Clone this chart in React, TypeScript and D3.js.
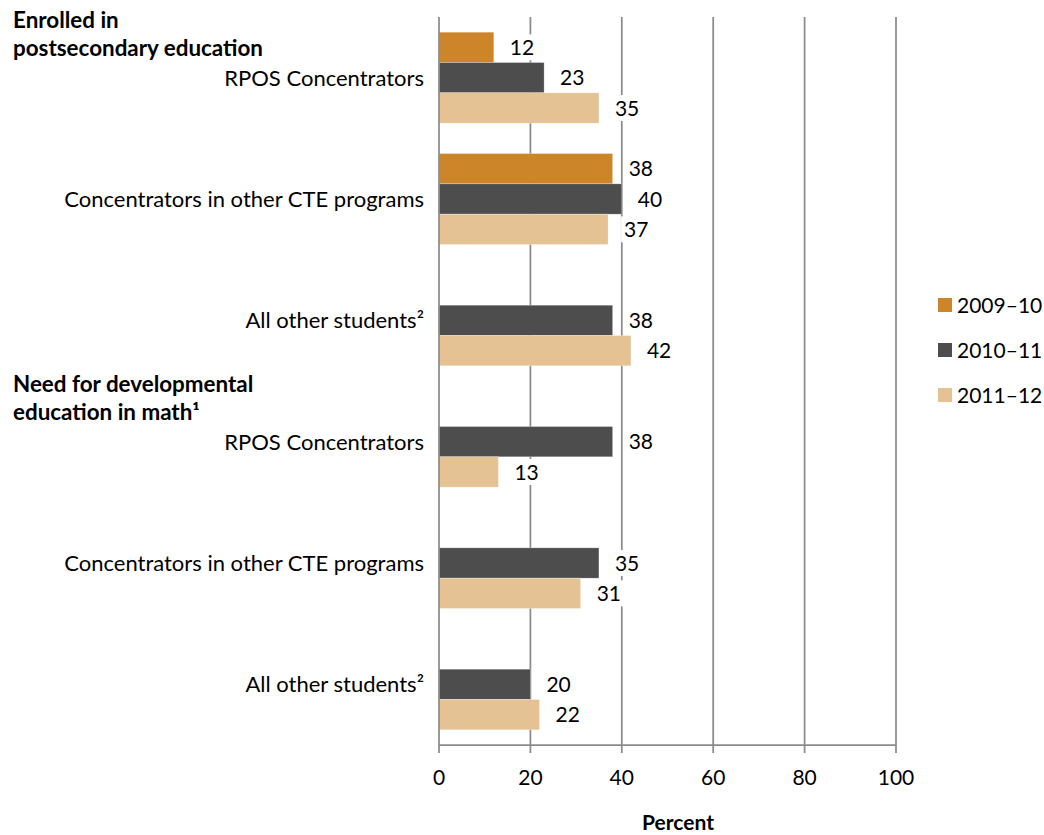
import React, { useEffect, useRef } from 'react';
import * as d3 from 'd3';

// rows of the chart, top to bottom
const groups = [
  'RPOS Concentrators',
  'Concentrators in other CTE programs',
  'All other students²',
  'RPOS Concentrators',
  'Concentrators in other CTE programs',
  'All other students²',
];
const sectionStarts = [0, 3];
const sectionTitles = [
  ['Enrolled in', 'postsecondary education'],
  ['Need for developmental', 'education in math¹'],
];

const years = ['2009–10', '2010–11', '2011–12'];
const vals0910: (number | null)[] = [12, 38, null, null, null, null];
const vals1011: (number | null)[] = [23, 40, 38, 38, 35, 20];
const vals1112: (number | null)[] = [35, 37, 42, 13, 31, 22];
const colors = ['#CD8529', '#4D4D4D', '#E4C294'];
const xTicks = [0, 20, 40, 60, 80, 100];

const FONT = "Lato, 'Open Sans', sans-serif";
const FS = 21;
const FS_CAT = 22;
const GRID = '#8c8c8c';

const App = () => {
  const ref = useRef<SVGSVGElement>(null);

  useEffect(() => {
    const svg = d3.select(ref.current);
    svg.selectAll('*').remove();

    const series = [vals0910, vals1011, vals1112];

    const x = d3.scaleLinear().domain([0, 100]).range([439, 896]);
    const y = d3.scaleBand<number>()
      .domain(d3.range(groups.length))
      .range([17, 745])
      .paddingInner(0.25)
      .paddingOuter(0.125);
    const sub = d3.scaleBand<number>().domain(d3.range(years.length)).range([0, y.bandwidth()]);

    const top = 17, bottom = 745;

    // vertical gridlines
    svg.append('g').selectAll('line')
      .data(xTicks.filter(d => d > 0))
      .enter().append('line')
      .attr('x1', d => x(d)).attr('x2', d => x(d))
      .attr('y1', top).attr('y2', bottom)
      .attr('stroke', GRID).attr('stroke-width', 1.75);

    // bars
    const bars: { g: number; s: number; v: number }[] = [];
    series.forEach((arr, s) => arr.forEach((v, g) => { if (v != null) bars.push({ g, s, v }); }));
    const rowMid = (d: { g: number; s: number }) =>
      (y(d.g) as number) + (sub(d.s) as number) + sub.bandwidth() / 2;

    svg.append('g').selectAll('rect')
      .data(bars)
      .enter().append('rect')
      .attr('x', x(0))
      .attr('y', d => (y(d.g) as number) + (sub(d.s) as number))
      .attr('width', d => x(d.v) - x(0))
      .attr('height', sub.bandwidth())
      .attr('fill', d => colors[d.s])
      .attr('stroke', '#ffffff').attr('stroke-opacity', 0.5).attr('stroke-width', 0.6);

    // left axis line
    svg.append('line')
      .attr('x1', x(0)).attr('x2', x(0)).attr('y1', top).attr('y2', bottom)
      .attr('stroke', GRID).attr('stroke-width', 1.75);

    // value labels with white boxes
    const lab = svg.append('g').selectAll('g')
      .data(bars)
      .enter().append('g');
    lab.append('rect').attr('fill', '#ffffff');
    lab.append('text')
      .attr('x', d => x(d.v) + 16)
      .attr('y', d => rowMid(d))
      .attr('dy', '0.36em')
      .attr('font-family', FONT).attr('font-size', FS).attr('fill', '#000')
      .text(d => d.v);
    lab.each(function (d) {
      const g = d3.select(this);
      const t = g.select<SVGTextElement>('text').node()!;
      const b = t.getBBox();
      g.select('rect')
        .attr('x', b.x - 3).attr('y', rowMid(d) - 13)
        .attr('width', b.width + 6).attr('height', 26);
    });

    // bottom axis
    const ax = svg.append('g').attr('transform', `translate(0,${bottom})`);
    ax.append('line').attr('x1', x(0)).attr('x2', x(100)).attr('stroke', GRID).attr('stroke-width', 1.75);
    ax.selectAll('.tk').data(xTicks).enter().append('line')
      .attr('x1', d => x(d)).attr('x2', d => x(d)).attr('y1', 0).attr('y2', 8)
      .attr('stroke', GRID).attr('stroke-width', 1.75);
    ax.selectAll('text').data(xTicks).enter().append('text')
      .attr('x', d => x(d)).attr('y', 32).attr('dy', '0.36em')
      .attr('text-anchor', 'middle')
      .attr('font-family', FONT).attr('font-size', FS)
      .text(d => d);

    svg.append('text')
      .attr('x', 678).attr('y', 822).attr('dy', '0.36em')
      .attr('text-anchor', 'middle')
      .attr('font-family', FONT).attr('font-size', FS).attr('font-weight', 'bold')
      .text('Percent');

    // category labels
    svg.append('g').selectAll('text')
      .data(groups)
      .enter().append('text')
      .attr('x', 424)
      .attr('y', (d, i) => (y(i) as number) + y.bandwidth() / 2)
      .attr('dy', '0.36em')
      .attr('text-anchor', 'end')
      .attr('font-family', FONT).attr('font-size', FS_CAT)
      .text(d => d);

    // section headers
    sectionStarts.forEach((gi, k) => {
      const y0 = y(gi) as number;
      sectionTitles[k].forEach((line, j) => {
        svg.append('text')
          .attr('x', 13)
          .attr('y', y0 - 12 + j * 28)
          .attr('dy', '0.36em')
          .attr('font-family', FONT).attr('font-size', 22.4).attr('font-weight', 'bold')
          .text(line);
      });
    });

    // legend
    const leg = svg.append('g').selectAll('g')
      .data(years)
      .enter().append('g')
      .attr('transform', (d, i) => `translate(938,${305 + i * 45})`);
    leg.append('rect').attr('x', 0).attr('y', -7).attr('width', 14).attr('height', 14)
      .attr('fill', (d, i) => colors[i]);
    leg.append('text').attr('x', 19).attr('dy', '0.36em')
      .attr('font-family', FONT).attr('font-size', FS)
      .text(d => d);
  }, []);

  return (
    <svg ref={ref} width={1044} height={835}
      style={{ position: 'absolute', left: 0, top: 0, background: '#fff' }} />
  );
};

export default App;
